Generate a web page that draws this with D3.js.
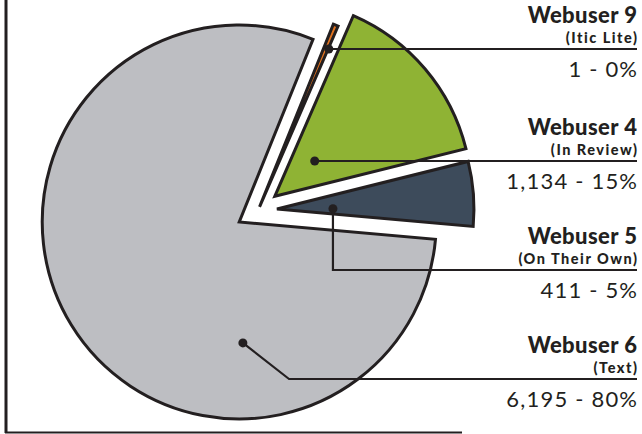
<!DOCTYPE html>
<html><head><meta charset="utf-8">
<script src="https://cdn.jsdelivr.net/npm/d3@7"></script>
<style>html,body{margin:0;padding:0;background:#fff;}svg{display:block;}</style>
</head><body>
<svg id="chart" width="642" height="434"></svg>
<script>
// ---- data ----
const categories = ["Webuser 9", "Webuser 4", "Webuser 5", "Webuser 6"];
const subLabels  = ["(Itic Lite)", "(In Review)", "(On Their Own)", "(Text)"];
const values     = [1, 1134, 411, 6195];

// ---- styling / layout ----
const colors = ["#e2731f", "#8fb334", "#3d4b5b", "#bdbec2"];
const ink = "#231f20";
const cx = 258, cy = 210.5, R = 197;
const explode = [4, 22, 19, 22];
const startDeg = 22;
const total = d3.sum(values);
const minShare = 0.00417;

const svg = d3.select("#chart");

const pie = d3.pie().sort(null)
  .value(d => Math.max(d, minShare * total))
  .startAngle(startDeg * Math.PI / 180)
  .endAngle(startDeg * Math.PI / 180 + 2 * Math.PI);
const arcs = pie(values);
const arc = d3.arc().innerRadius(0).outerRadius(R);

function apex(d, i) {
  const m = (d.startAngle + d.endAngle) / 2;
  return [cx + explode[i] * Math.sin(m), cy - explode[i] * Math.cos(m)];
}

// frame
svg.append("line").attr("x1", 6).attr("y1", 0).attr("x2", 6).attr("y2", 433)
  .attr("stroke", ink).attr("stroke-width", 3);
svg.append("line").attr("x1", 5).attr("y1", 432.5).attr("x2", 462).attr("y2", 432.5)
  .attr("stroke", ink).attr("stroke-width", 2);

// slices (gray first so others sit on top)
const order = [3, 0, 1, 2];
order.forEach(i => {
  const d = arcs[i];
  const [ax, ay] = apex(d, i);
  svg.append("path")
    .attr("d", arc(d))
    .attr("transform", `translate(${ax},${ay})`)
    .attr("fill", colors[i])
    .attr("stroke", ink)
    .attr("stroke-width", 3)
    .attr("stroke-linejoin", "miter");
});

// leaders
const dotCfg = [
  {t: 0.6, r: 178},
  {t: 0.46, r: 54},
  {t: 0.72, r: 56},
  {t: 0.29, r: 121}
];
const lineY = [49, 161, 270, 379];
const xRight = 637;

arcs.forEach((d, i) => {
  const [ax, ay] = apex(d, i);
  const a = d.startAngle + (d.endAngle - d.startAngle) * dotCfg[i].t;
  const px = ax + dotCfg[i].r * Math.sin(a);
  const py = ay - dotCfg[i].r * Math.cos(a);
  let pts;
  if (i === 0 || i === 1) pts = [[px, lineY[i]], [xRight, lineY[i]]];
  else if (i === 2) pts = [[px, py], [px, lineY[i]], [xRight, lineY[i]]];
  else pts = [[px, py], [px + (lineY[i] - py) * 1.28, lineY[i]], [xRight, lineY[i]]];
  svg.append("path")
    .attr("d", d3.line()(pts))
    .attr("fill", "none").attr("stroke", ink).attr("stroke-width", 2.2);
  svg.append("circle").attr("cx", pts[0][0]).attr("cy", pts[0][1]).attr("r", 4.5).attr("fill", ink);

  const g = svg.append("g").attr("text-anchor", "end").attr("fill", ink)
    .attr("font-family", "Lato, 'Open Sans', sans-serif");
  g.append("text").attr("x", xRight + 0.3).attr("y", lineY[i] - 26.5)
    .attr("font-size", 22).attr("font-weight", 900).attr("letter-spacing", 0.4)
    .text(categories[i]);
  g.append("text").attr("x", xRight + 1.5).attr("y", lineY[i] - 6.5)
    .attr("font-size", 14.5).attr("font-weight", 900).attr("letter-spacing", 1.5)
    .text(subLabels[i]);
  const pct = Math.round(values[i] / total * 100);
  g.append("text").attr("x", xRight + 1.2).attr("y", lineY[i] + 28)
    .attr("font-size", 22).attr("font-weight", 400).attr("letter-spacing", 1.2)
    .text(d3.format(",")(values[i]) + " - " + pct + "%");
});
</script>
</body></html>
